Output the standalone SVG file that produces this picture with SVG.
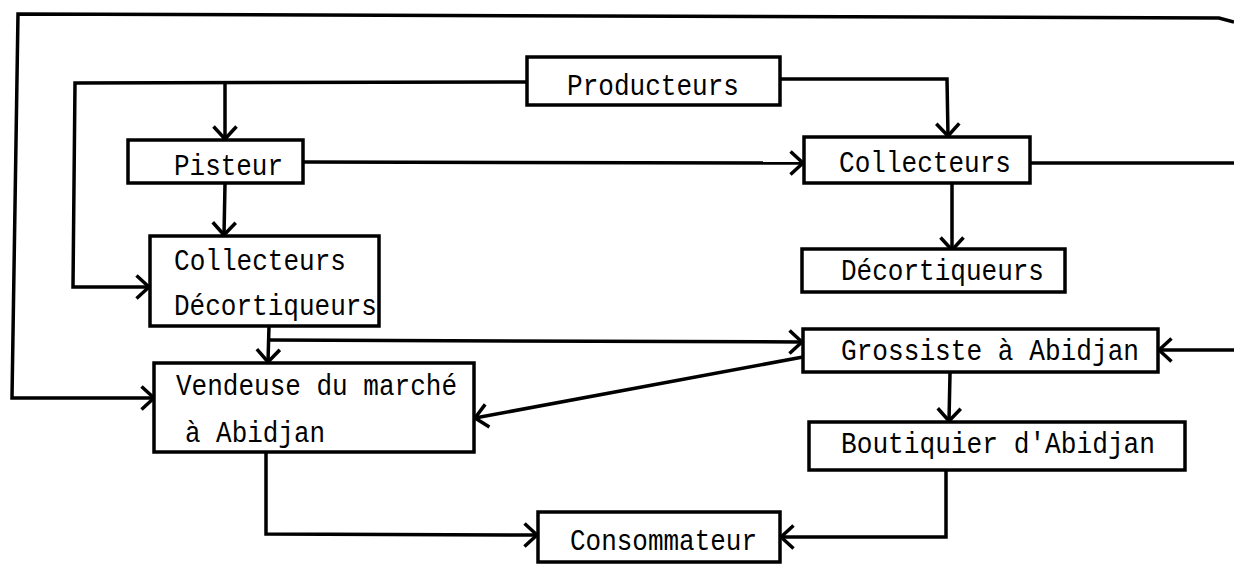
<svg xmlns="http://www.w3.org/2000/svg" width="1234" height="565" viewBox="0 0 1234 565">
<style>
.box{fill:#fff;stroke:#000;stroke-width:3.5}
.ln{fill:none;stroke:#000;stroke-width:3.5;stroke-linejoin:miter}
.t{font-family:"Liberation Mono","DejaVu Sans Mono",monospace;font-size:29px;fill:#000}
</style>
<defs>
<marker id="v" viewBox="0 0 16 26" refX="14" refY="13" markerWidth="16" markerHeight="26" markerUnits="userSpaceOnUse" orient="auto">
<path d="M1.5,1.5 L14,13 L1.5,24.5" fill="none" stroke="#000" stroke-width="3.5"/>
</marker>
</defs>
<g id="connectors">
<path class="ln" d="M1234,22 L1219,18 L18,14 L12,398 L154,398" marker-end="url(#v)"/>
<path class="ln" d="M527,82 L75,83 L73,287 L149,287" marker-end="url(#v)"/>
<path class="ln" d="M225,83 L225,139" marker-end="url(#v)"/>
<path class="ln" d="M780,79 L947,79 L948,136" marker-end="url(#v)"/>
<path class="ln" d="M303,162 L803,163" marker-end="url(#v)"/>
<path class="ln" d="M1030,163 L1234,163"/>
<path class="ln" d="M952,183 L952,250" marker-end="url(#v)"/>
<path class="ln" d="M225,184 L224,235" marker-end="url(#v)"/>
<path class="ln" d="M269,326 L268,362" marker-end="url(#v)"/>
<path class="ln" d="M269,340 L802,342" marker-end="url(#v)"/>
<path class="ln" d="M803,357 L475,418" marker-end="url(#v)"/>
<path class="ln" d="M1234,350 L1159,350" marker-end="url(#v)"/>
<path class="ln" d="M950,373 L949,421" marker-end="url(#v)"/>
<path class="ln" d="M266,452 L266,534 L537,535" marker-end="url(#v)"/>
<path class="ln" d="M946,470 L946,537 L781,537" marker-end="url(#v)"/>
</g>
<g id="producteurs">
<rect class="box" x="527" y="57" width="253" height="48"/>
<text class="t" x="567" y="95" textLength="172" lengthAdjust="spacingAndGlyphs">Producteurs</text>
</g>
<g id="pisteur">
<rect class="box" x="128" y="140" width="175" height="43"/>
<text class="t" x="174" y="175" textLength="109" lengthAdjust="spacingAndGlyphs">Pisteur</text>
</g>
<g id="collecteurs">
<rect class="box" x="804" y="137" width="226" height="46"/>
<text class="t" x="839" y="172" textLength="172" lengthAdjust="spacingAndGlyphs">Collecteurs</text>
</g>
<g id="collecteurs-decortiqueurs">
<rect class="box" x="150" y="236" width="229" height="90"/>
<text class="t" x="174" y="270" textLength="172" lengthAdjust="spacingAndGlyphs">Collecteurs</text>
<text class="t" x="174" y="315" textLength="203" lengthAdjust="spacingAndGlyphs">Décortiqueurs</text>
</g>
<g id="decortiqueurs">
<rect class="box" x="802" y="249" width="263" height="43"/>
<text class="t" x="841" y="280" textLength="203" lengthAdjust="spacingAndGlyphs">Décortiqueurs</text>
</g>
<g id="grossiste">
<rect class="box" x="803" y="329" width="355" height="43"/>
<text class="t" x="841" y="360" textLength="298" lengthAdjust="spacingAndGlyphs">Grossiste à Abidjan</text>
</g>
<g id="vendeuse">
<rect class="box" x="154" y="363" width="320" height="89"/>
<text class="t" x="176" y="395" textLength="281" lengthAdjust="spacingAndGlyphs">Vendeuse du marché</text>
<text class="t" x="185" y="442" textLength="140" lengthAdjust="spacingAndGlyphs">à Abidjan</text>
</g>
<g id="boutiquier">
<rect class="box" x="809" y="422" width="376" height="48"/>
<text class="t" x="841" y="453" textLength="314" lengthAdjust="spacingAndGlyphs">Boutiquier d'Abidjan</text>
</g>
<g id="consommateur">
<rect class="box" x="538" y="512" width="242" height="50"/>
<text class="t" x="570" y="550" textLength="187" lengthAdjust="spacingAndGlyphs">Consommateur</text>
</g>
</svg>
